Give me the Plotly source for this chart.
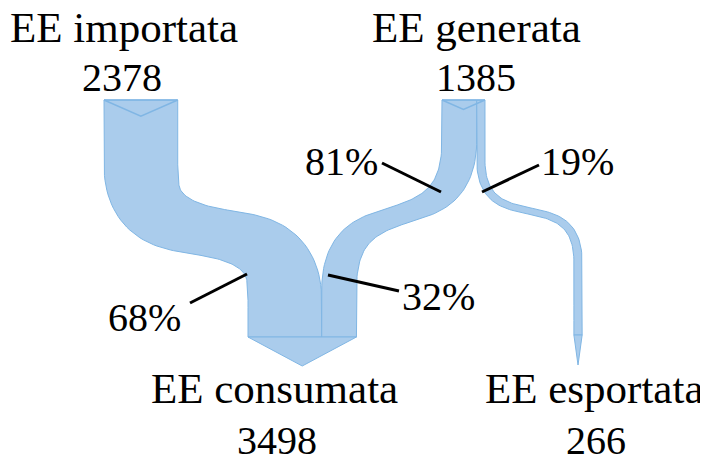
"""Diagramma di flusso dell'energia elettrica (importata, generata, consumata, esportata)."""

import numpy as np
import plotly.graph_objects as go

# --- dati ---
NODE_NAMES = ["EE importata", "EE generata", "EE consumata", "EE esportata"]
NODE_VALUES = [2378, 1385, 3498, 266]
FLOW_SOURCE = [0, 1, 1]
FLOW_TARGET = [2, 2, 3]
FLOW_VALUES = [2378, 1120, 266]
SHARE_LABELS = ["68%", "32%", "81%", "19%"]

# --- layout (pixel della pagina; la pagina ha 8 px di margine) ---
W, H = 708, 457
PAD = 8
SCALE = 0.031  # px per unità
FONT = "Liberation Serif, Times New Roman, serif"
FILL = "rgb(170,204,236)"
EDGE = "rgb(128,182,228)"

NODE_LEFT = [104, 442, 248, 573.9]
NODE_TOP = [100, 100, 337, 335]
# (x nome, y nome, x valore, y valore)
NODE_LABEL_POS = [(124, 27, 122, 77), (476, 27, 476, 77), (274, 388, 277, 440), (594, 388, 596, 440)]

# routing of each flow: y curve start, y curve end, control length, squeeze
FLOW_ROUTE = [(165, 300, 106, 0.33), (140, 290, 110, 0.42), (160, 262, 82, 0.22)]

SHARE_POS = [(144, 317), (438, 296), (341, 161), (577, 161)]
LEADERS = [
    ((190, 303), (247, 274)),
    ((328, 275), (399, 291)),
    ((382, 163), (441, 192)),
    ((539, 165), (482, 192)),
]


def cubic(p0, p1, p2, p3, n=80):
    t = np.linspace(0, 1, n)[:, None]
    pts = ((1 - t) ** 3) * p0 + 3 * ((1 - t) ** 2) * t * p1 + 3 * (1 - t) * t ** 2 * p2 + t ** 3 * p3
    return pts, t[:, 0]


def ribbon(x_top, y_top, y_c0, x_bot, y_c1, y_bot, width, c, squeeze):
    """Return polygon (xs, ys) of a band following a vertical S route."""
    seg1 = np.column_stack([np.full(6, x_top), np.linspace(y_top, y_c0, 6)])
    curve, t = cubic(np.array([x_top, y_c0]), np.array([x_top, y_c0 + c]),
                     np.array([x_bot, y_c1 - c]), np.array([x_bot, y_c1]))
    seg3 = np.column_stack([np.full(6, x_bot), np.linspace(y_c1, y_bot, 6)])
    center = np.vstack([seg1, curve[1:], seg3[1:]])
    half = np.concatenate([
        np.full(6, width / 2),
        width / 2 * (1 - squeeze * np.sin(np.pi * t[1:]) ** 2),
        np.full(5, width / 2),
    ])
    tan = np.gradient(center, axis=0)
    tan /= np.linalg.norm(tan, axis=1)[:, None]
    normal = np.column_stack([-tan[:, 1], tan[:, 0]])
    left = center + normal * half[:, None]
    right = center - normal * half[:, None]
    poly = np.vstack([left, right[::-1], left[:1]])
    return poly[:, 0], poly[:, 1]


fig = go.Figure()

# posizione dei flussi dentro i nodi di origine e destinazione
out_off = [0.0] * len(NODE_NAMES)
in_off = [0.0] * len(NODE_NAMES)
for i, (s, d, v) in enumerate(zip(FLOW_SOURCE, FLOW_TARGET, FLOW_VALUES)):
    w = v * SCALE
    x_top = NODE_LEFT[s] + out_off[s] + w / 2
    x_bot = NODE_LEFT[d] + in_off[d] + w / 2
    out_off[s] += w
    in_off[d] += w
    y_c0, y_c1, c, sq = FLOW_ROUTE[i]
    xs, ys = ribbon(x_top, NODE_TOP[s], y_c0, x_bot, y_c1, NODE_TOP[d], w, c, sq)
    fig.add_trace(go.Scatter(x=xs, y=ys, mode="lines", fill="toself", fillcolor=FILL,
                             line=dict(color=EDGE, width=1), hoverinfo="skip", showlegend=False))

# ingressi a V delle sorgenti
for k in (0, 1):
    x0 = NODE_LEFT[k]
    w = NODE_VALUES[k] * SCALE
    fig.add_trace(go.Scatter(x=[x0, x0 + w / 2, x0 + w], y=[NODE_TOP[k], NODE_TOP[k] + w * 0.22, NODE_TOP[k]],
                             mode="lines", line=dict(color=EDGE, width=1.5), hoverinfo="skip", showlegend=False))
    fig.add_trace(go.Scatter(x=[x0, x0 + w], y=[NODE_TOP[k], NODE_TOP[k]], mode="lines",
                             line=dict(color=EDGE, width=1.5), hoverinfo="skip", showlegend=False))

# punte delle destinazioni
for k, depth in ((2, 29), (3, 30)):
    x0 = NODE_LEFT[k]
    w = NODE_VALUES[k] * SCALE
    y0 = NODE_TOP[k]
    fig.add_trace(go.Scatter(x=[x0, x0 + w / 2, x0 + w, x0], y=[y0, y0 + depth, y0, y0],
                             mode="lines", fill="toself", fillcolor=FILL, line=dict(color=EDGE, width=1),
                             hoverinfo="skip", showlegend=False))

for (a, b) in LEADERS:
    fig.add_shape(type="line", x0=a[0], y0=a[1], x1=b[0], y1=b[1], xref="x", yref="y",
                  line=dict(color="black", width=3))

annotations = []
for name, val, (nx, ny, vx, vy) in zip(NODE_NAMES, NODE_VALUES, NODE_LABEL_POS):
    annotations.append(dict(x=nx, y=ny, text=name, showarrow=False, xref="x", yref="y",
                            font=dict(family=FONT, size=43, color="black")))
    annotations.append(dict(x=vx, y=vy, text=str(val), showarrow=False, xref="x", yref="y",
                            font=dict(family=FONT, size=40, color="black")))
for lab, (sx, sy) in zip(SHARE_LABELS, SHARE_POS):
    annotations.append(dict(x=sx, y=sy, text=lab, showarrow=False, xref="x", yref="y",
                            font=dict(family=FONT, size=40, color="black")))

fig.update_layout(
    width=W - PAD,
    height=H - PAD,
    margin=dict(l=0, r=0, t=0, b=0),
    paper_bgcolor="white",
    plot_bgcolor="white",
    annotations=annotations,
    xaxis=dict(range=[PAD, W], visible=False, fixedrange=True),
    yaxis=dict(range=[H, PAD], visible=False, fixedrange=True),
)

fig.write_html("out.html")
